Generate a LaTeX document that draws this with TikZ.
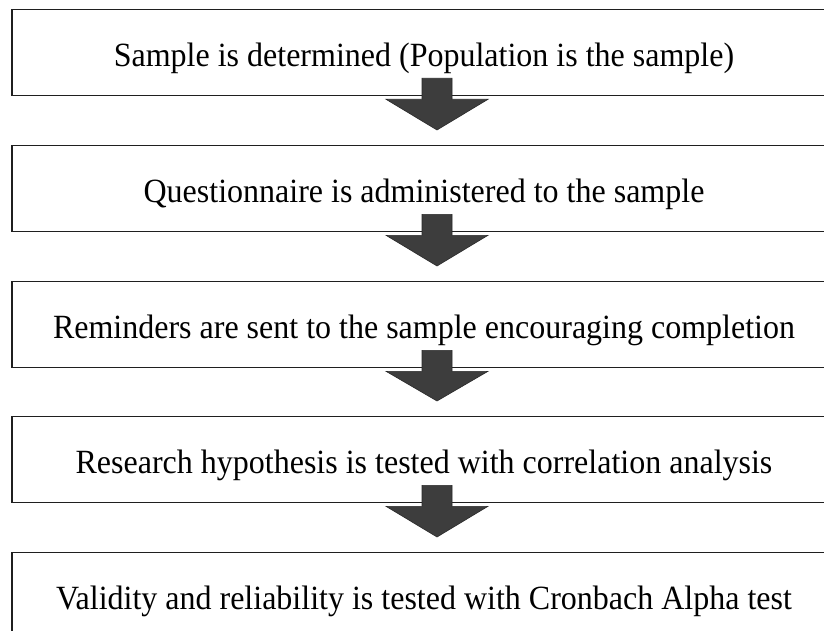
\documentclass[tikz,border=0pt]{standalone}
\usepackage{fontspec}
\setmainfont{Liberation Serif}
\usetikzlibrary{calc}

\tikzset{
  stepbox/.style={draw=black!88, line width=1.3pt, rectangle,
    minimum width=824pt, minimum height=86pt, inner sep=0pt,
    text height=28.5pt, text depth=0pt,
    font=\fontsize{32}{37}\selectfont, anchor=north},
  flowarrow/.style={fill=black!76, draw=black!84, line width=0.6pt, line join=miter}
}

% block arrow from the bottom of one box towards the top of the next
\newcommand{\blockarrow}[2]{%
  \filldraw[flowarrow]
    ($(#1.south)+(-2pt,18pt)$) -- ($(#1.south)+(28pt,18pt)$) --
    ($(#1.south)+(28pt,-3pt)$) -- ($(#1.south)+(64pt,-3pt)$) --
    ($(#2.north)+(13pt,15pt)$) --
    ($(#1.south)+(-38pt,-3pt)$) -- ($(#1.south)+(-2pt,-3pt)$) -- cycle;}

\begin{document}
\begin{tikzpicture}[x=1pt,y=1pt]
  \useasboundingbox (0,0) rectangle (824,-631);
  \clip (0,0) rectangle (824,-631);
  \fill[white] (0,0) rectangle (824,-631);

  \node[stepbox] (b1) at (424,-9)   {\scalebox{1}[1.06]{Sample is determined (Population is the sample)}};
  \node[stepbox] (b2) at (424,-145) {\scalebox{1}[1.06]{Questionnaire is administered to the sample}};
  \node[stepbox] (b3) at (424,-281) {\scalebox{1}[1.06]{Reminders are sent to the sample encouraging completion}};
  \node[stepbox] (b4) at (424,-416) {\scalebox{1}[1.06]{Research hypothesis is tested with correlation analysis}};
  \node[stepbox] (b5) at (424,-552) {\scalebox{1}[1.06]{Validity and reliability is tested with Cronbach Alpha test}};

  \blockarrow{b1}{b2}
  \blockarrow{b2}{b3}
  \blockarrow{b3}{b4}
  \blockarrow{b4}{b5}
\end{tikzpicture}
\end{document}
